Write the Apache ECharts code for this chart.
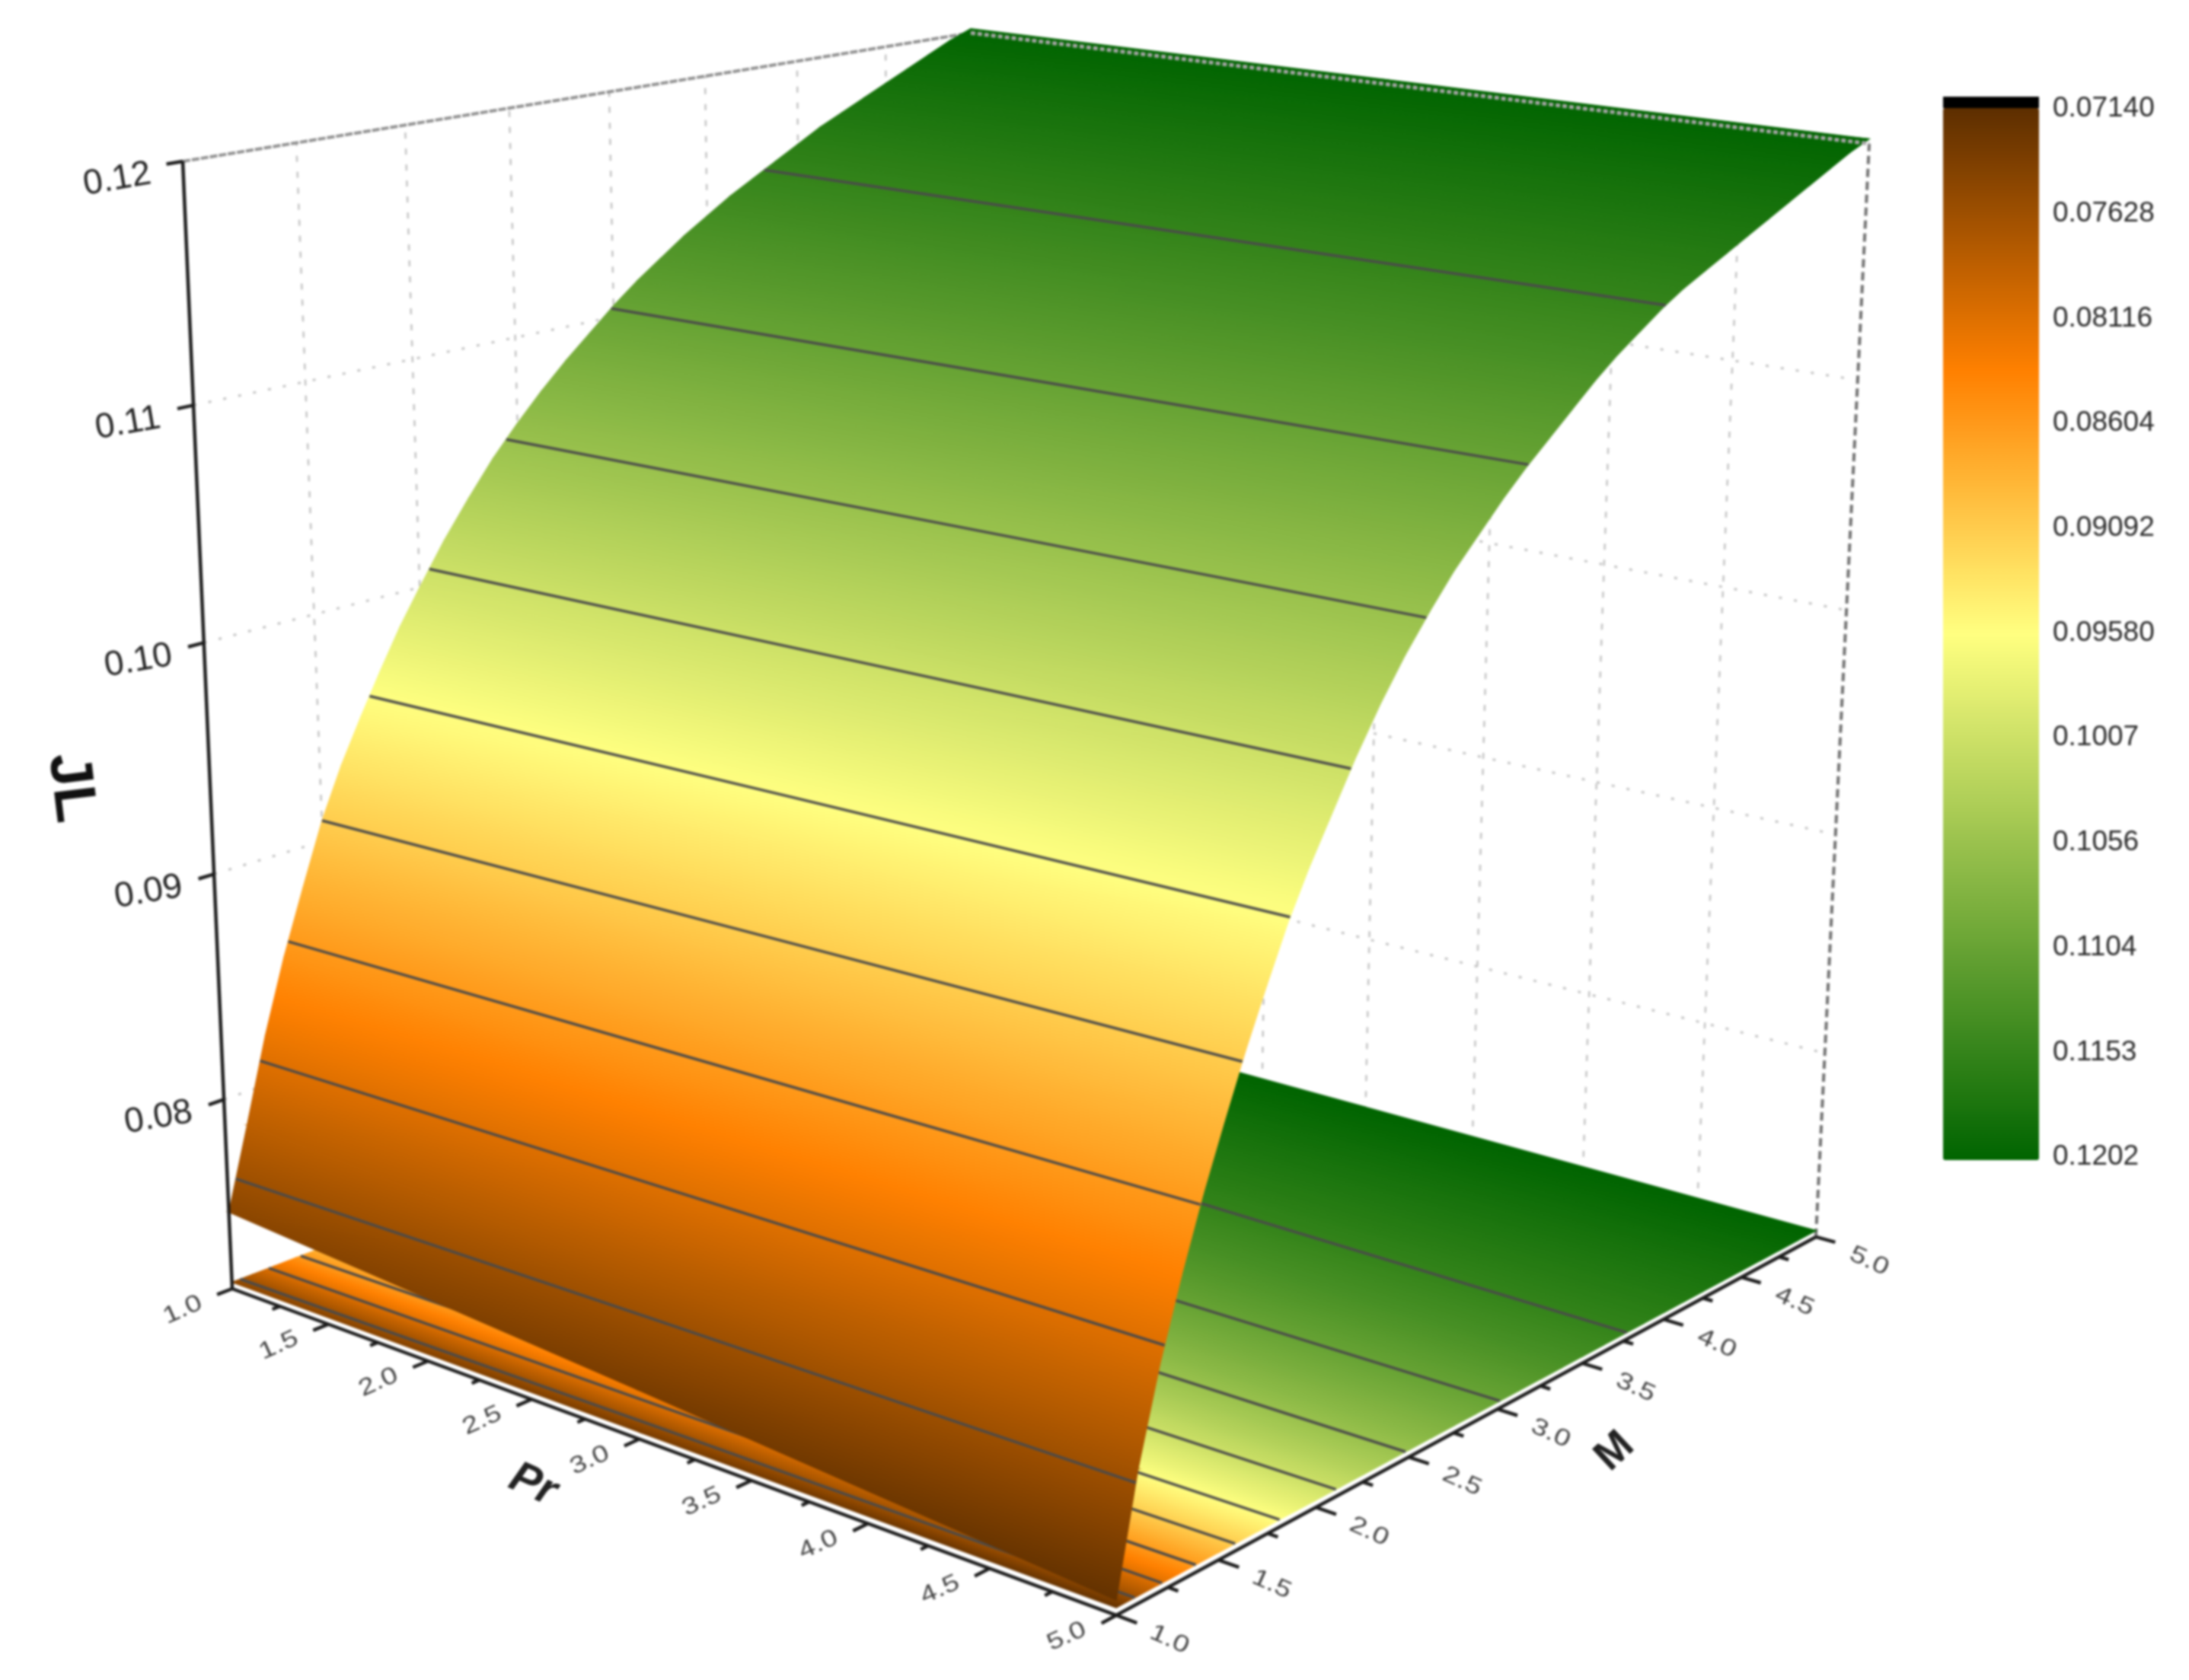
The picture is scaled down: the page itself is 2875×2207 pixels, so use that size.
<!DOCTYPE html>
<html><head><meta charset="utf-8">
<style>html,body{margin:0;padding:0;background:#fff}#c{width:2875px;height:2207px;filter:blur(1.6px)}</style>
<script src="https://cdn.jsdelivr.net/npm/echarts@6/dist/echarts.min.js"></script>
</head><body><div id="c"></div>
<script>
// ---------- data ----------
const prValues = [1, 3, 5];
const mValues = [1, 1.1, 1.2, 1.3, 1.4, 1.5, 1.6, 1.7, 1.8, 1.9, 2, 2.125, 2.25, 2.375, 2.5, 2.625, 2.75, 2.875, 3, 3.125, 3.25, 3.375, 3.5, 3.625, 3.75, 3.875, 4, 4.125, 4.25, 4.375, 4.5, 4.625, 4.75, 4.875, 5];
const jlAtPr1 = [.0749, .0785, .0822, .0854, .0882, .0909, .0931, .0950, .0968, .0985, .1000, .1018, .1034, .1049, .1062, .1074, .1085, .1095, .1105, .1114, .1122, .1130, .1137, .1144, .1150, .1156, .1162, .1168, .1173, .1178, .1183, .1188, .1193, .1198, .1202];
const jlAtPr3 = [.0735, .0776, .0813, .0845, .0873, .0899, .0922, .0942, .0962, .0980, .0995, .1014, .1031, .1046, .1060, .1072, .1084, .1094, .1104, .1113, .1122, .1130, .1137, .1144, .1151, .1157, .1163, .1168, .1173, .1178, .1183, .1188, .1193, .1198, .1202];
const jlAtPr5 = [.0720, .0768, .0805, .0836, .0864, .0889, .0913, .0935, .0956, .0974, .0990, .1010, .1028, .1044, .1058, .1071, .1082, .1093, .1103, .1112, .1121, .1130, .1138, .1145, .1152, .1158, .1163, .1168, .1173, .1178, .1183, .1188, .1193, .1198, .1202];
const contourLevels = [.07628, .08116, .08604, .09092, .0958, .1007, .1056, .1104, .1153];
const colorbarLabels = ['0.07140', '0.07628', '0.08116', '0.08604', '0.09092', '0.09580', '0.1007', '0.1056', '0.1104', '0.1153', '0.1202'];
const zTicks = ['0.08', '0.09', '0.10', '0.11', '0.12'];
const prTicks = ['1.0', '1.5', '2.0', '2.5', '3.0', '3.5', '4.0', '4.5', '5.0'];
const mTicks = ['1.0', '1.5', '2.0', '2.5', '3.0', '3.5', '4.0', '4.5', '5.0'];
const colorStops = ['#5c2e00', '#ff8000', '#ffff80', '#80b240', '#006400'];

const jlRows = [jlAtPr1, jlAtPr3, jlAtPr5];
const cbMin = .0714, cbMax = .1202, zMin = .0714, zMax = .12;
const floorLift = .0003; // the projected map floats just above the axes plane

// perspective camera of the 3D frame
const cam = {
  d: [-.14631, .16814, -.06167],
  x: [305, 946.5, 1185.5, -79.8],
  y: [1693, 118.5, -151.1, -1494.1],
  twist: 15
};
function project(api, pr, m, j) {
  const c = api.coord([pr, m]);
  const u = c[0] / 1000, v = 1 - c[1] / 1000, w = (j - zMin) / (zMax - zMin);
  const d = 1 + cam.d[0] * u + cam.d[1] * v + cam.d[2] * w;
  return [(cam.x[0] + cam.x[1] * u + cam.x[2] * v + cam.x[3] * w) / d,
          (cam.y[0] + cam.y[1] * u + cam.y[2] * v + cam.y[3] * w + cam.twist * u * v * w) / d];
}
const colorAt = j => echarts.color.lerp(Math.min(1, Math.max(0, (j - cbMin) / (cbMax - cbMin))), colorStops);

function triangle(p, j) {
  const ax = p[1][0] - p[0][0], ay = p[1][1] - p[0][1], bx = p[2][0] - p[0][0], by = p[2][1] - p[0][1];
  const det = ax * by - ay * bx, dj1 = j[1] - j[0], dj2 = j[2] - j[0];
  const gx = Math.abs(det) < 1e-6 ? 0 : (dj1 * by - dj2 * ay) / det;
  const gy = Math.abs(det) < 1e-6 ? 0 : (ax * dj2 - bx * dj1) / det;
  const n = gx * gx + gy * gy;
  const lo = Math.min(j[0], j[1], j[2]), hi = Math.max(j[0], j[1], j[2]);
  let paint = colorAt((lo + hi) / 2);
  if (n > 0 && hi - lo > 1e-6) {
    const at = v => [p[0][0] + gx / n * (v - j[0]), p[0][1] + gy / n * (v - j[0])];
    const s = at(lo), e = at(hi), stops = [];
    for (let i = 0; i <= 4; i++) stops.push({ offset: i / 4, color: colorAt(lo + (hi - lo) * i / 4) });
    paint = new echarts.graphic.LinearGradient(s[0], s[1], e[0], e[1], stops, true);
  }
  return { type: 'polygon', silent: true, shape: { points: p }, style: { fill: paint, stroke: paint, lineWidth: 1.2 } };
}
function quad(api, i, k, flat) {
  const z = (a, b) => flat ? zMin + floorLift : jlRows[a][b];
  const c = [[i, k], [i + 1, k], [i + 1, k + 1], [i, k + 1]];
  const pts = c.map(q => project(api, prValues[q[0]], mValues[q[1]], z(q[0], q[1])));
  const js = c.map(q => jlRows[q[0]][q[1]]);
  return { type: 'group', children: [
    triangle([pts[0], pts[1], pts[2]], [js[0], js[1], js[2]]),
    triangle([pts[0], pts[2], pts[3]], [js[0], js[2], js[3]])
  ] };
}
function cellRows() {
  const rows = [];
  for (let k = mValues.length - 2; k >= 0; k--)
    for (let i = 0; i < prValues.length - 1; i++)
      rows.push([prValues[i], mValues[k], jlRows[i][k], i, k]);
  return rows;
}
function line(points, stroke, lineWidth, lineDash) {
  return { type: 'polyline', silent: true, shape: { points }, style: { stroke, lineWidth, lineDash: lineDash || null, fill: null } };
}
function text(str, pos, size, rotation, opts, sy) {
  return { type: 'text', silent: true, x: pos[0], y: pos[1], rotation, scaleY: sy || 1,
    style: Object.assign({ text: str, x: 0, y: 0, font: size + 'px "Liberation Sans"', fill: '#333', align: 'center', verticalAlign: 'middle' }, opts || {}) };
}
function contour(api, level, flat) {
  const pts = [];
  jlRows.forEach((col, i) => {
    for (let k = 0; k < col.length - 1; k++) if (col[k] <= level && level < col[k + 1]) {
      const m = mValues[k] + (mValues[k + 1] - mValues[k]) * (level - col[k]) / (col[k + 1] - col[k]);
      pts.push(project(api, prValues[i], m, flat ? zMin + floorLift : level));
      break;
    }
  });
  return line(pts, '#4a4a4a', 3.5, null);
}
const one = renderItem => ({ type: 'custom', coordinateSystem: 'cartesian2d', xAxisIndex: 0, yAxisIndex: 0, silent: true, data: [[1, 1, zMin]], renderItem });

const renderWalls = (p, api) => {
  const kids = [], gc = '#c2c2c2';
  mTicks.slice(1, -1).forEach(t => {
    kids.push(line([project(api, 1, +t, zMin), project(api, 1, +t, zMax)], gc, 2.5, [8, 13]));
  });
  prTicks.slice(1, -1).forEach(t => {
    kids.push(line([project(api, +t, 5, zMin), project(api, +t, 5, zMax)], gc, 2.5, [8, 13]));
  });
  zTicks.slice(0, -1).forEach(t => {
    kids.push(line([project(api, 1, 1, +t), project(api, 1, 5, +t), project(api, 5, 5, +t)], gc, 3, [4, 16]));
  });
  kids.push(line([project(api, 1, 1, zMax), project(api, 1, 5, zMax)], '#8f8f8f', 4, [10, 2]));
  kids.push(line([project(api, 5, 5, zMin), project(api, 5, 5, zMax)], '#707070', 4, [11, 6]));
  return { type: 'group', children: kids };
};
const renderTopEdge = (p, api) => line([project(api, 1, 5, zMax), project(api, 5, 5, zMax)], '#a6a6a6', 5, [6, 3]);
const renderContours = flat => (p, api) => ({ type: 'group', children: contourLevels.map(l => contour(api, l, flat)) });
const renderAxes = (p, api) => {
  const kids = [];
  kids.push(line([project(api, 1, 1, zMin), project(api, 5, 1, zMin)], '#1c1c1c', 4.5));
  kids.push(line([project(api, 5, 1, zMin), project(api, 5, 5, zMin)], '#1c1c1c', 4.5));
  kids.push(line([project(api, 1, 1, zMin), project(api, 1, 1, zMax)], '#1c1c1c', 4.5));
  prTicks.forEach(t => {
    const v = +t, a = project(api, v, 1, zMin);
    kids.push(line([a, project(api, v, .93, zMin)], '#1c1c1c', 4.5));
    if (v < 5) kids.push(line([project(api, v + .25, 1, zMin), project(api, v + .25, .965, zMin)], '#1c1c1c', 4.5));
    kids.push(text(t, [a[0] - 65, a[1] + 28], 38, .42, { fill: '#444' }, .82));
  });
  mTicks.forEach(t => {
    const v = +t;
    const a = project(api, 5, v, zMin);
    kids.push(line([a, project(api, 5.08, v, zMin)], '#1c1c1c', 4.5));
    if (v < 5) kids.push(line([project(api, 5, v + .25, zMin), project(api, 5.04, v + .25, zMin)], '#1c1c1c', 4.5));
    kids.push(text(t, [a[0] + 70, a[1] + 32], 38, -.42, { fill: '#444' }, .82));
  });
  zTicks.forEach(t => {
    const a = project(api, 1, 1, +t);
    kids.push(line([a, project(api, 1, .93, +t)], '#1c1c1c', 4.5));
    kids.push(text(t, [a[0] - 86, a[1] + 24], 46, .17, { fill: '#222' }));
  });
  kids.push(text('JL', [92, 1035], 78, -1.45, { fill: '#111', font: 'bold 78px "Liberation Sans"' }));
  kids.push(text('Pr', [700, 1951], 58, -.42, { fill: '#222', font: 'italic bold 58px "Liberation Sans"' }));
  kids.push(text('M', [2121, 1907], 56, .75, { fill: '#222', font: 'bold 56px "Liberation Sans"' }));
  return { type: 'group', children: kids };
};

const chart = echarts.init(document.getElementById('c'), null, { width: 2875, height: 2207, renderer: 'canvas' });
chart.setOption({
  animation: false,
  backgroundColor: '#fff',
  grid: [
    { left: 0, top: 0, width: 1000, height: 1000, show: false },
    { left: 2677, top: 143, width: 1, height: 1377, show: false }
  ],
  xAxis: [
    { gridIndex: 0, type: 'value', min: 1, max: 5, show: false },
    { gridIndex: 1, type: 'value', min: 0, max: 1, show: false }
  ],
  yAxis: [
    { gridIndex: 0, type: 'value', min: 1, max: 5, show: false },
    { gridIndex: 1, type: 'category', data: colorbarLabels, inverse: true, boundaryGap: false, position: 'right',
      axisLine: { show: false }, axisTick: { show: false }, splitLine: { show: false },
      axisLabel: { interval: 0, margin: 18, fontFamily: 'Liberation Sans', fontSize: 37, color: '#2a2a2a' } }
  ],
  visualMap: {
    type: 'continuous', seriesIndex: 1, dimension: 2, min: cbMin, max: cbMax, inverse: true, calculable: false,
    left: 2552, top: 142, itemWidth: 126, itemHeight: 1382, padding: 0, text: null, showLabel: false,
    inRange: { color: colorStops }
  },
  graphic: [{ type: 'rect', left: 2552, top: 127, shape: { width: 126, height: 15 }, style: { fill: '#000' } }],
  series: [
    one(renderWalls),
    { type: 'custom', coordinateSystem: 'cartesian2d', xAxisIndex: 0, yAxisIndex: 0, silent: true, data: cellRows(),
      renderItem: (p, api) => quad(api, api.value(3), api.value(4), true) },
    one(renderContours(true)),
    { type: 'custom', coordinateSystem: 'cartesian2d', xAxisIndex: 0, yAxisIndex: 0, silent: true, data: cellRows(),
      renderItem: (p, api) => quad(api, api.value(3), api.value(4), false) },
    one(renderContours(false)),
    one(renderTopEdge),
    one(renderAxes)
  ]
});
</script></body></html>
